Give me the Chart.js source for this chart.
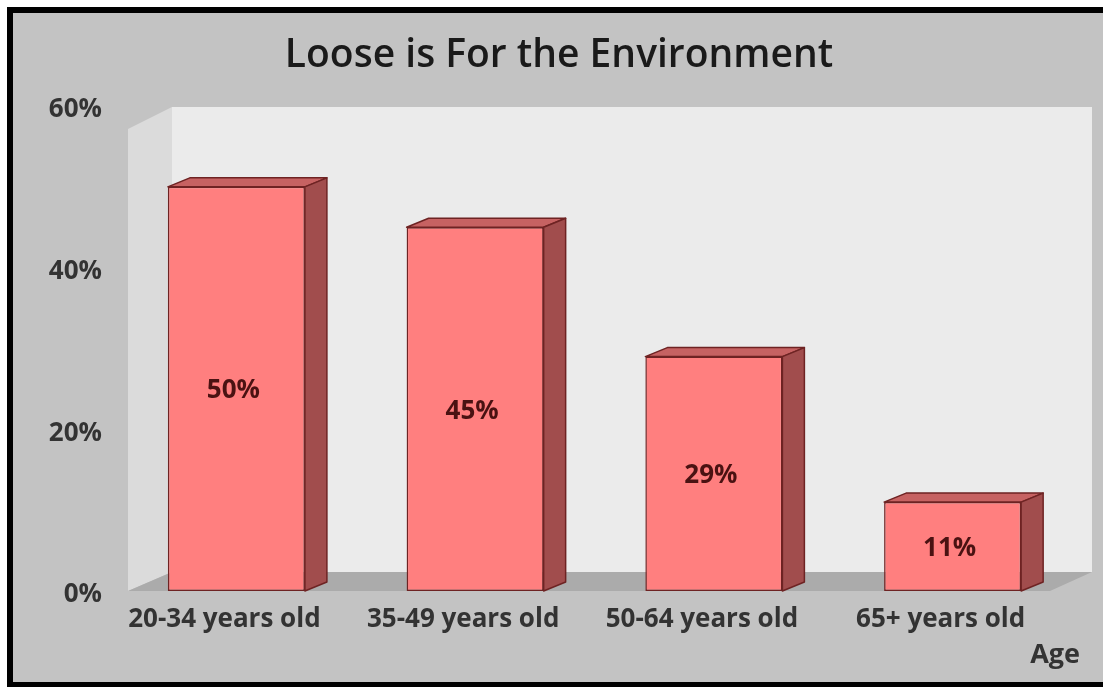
<!DOCTYPE html>
<html>
<head>
<meta charset="utf-8">
<title>Loose is For the Environment</title>
<script src="https://cdn.jsdelivr.net/npm/chart.js@4.4.1/dist/chart.umd.min.js"></script>
<style>
    html, body { margin: 0; padding: 0; background: #ffffff; }
    #wrap { position: relative; width: 1106px; height: 687px; }
</style>
</head>
<body>
<div id="wrap"><canvas id="ageChart" width="1106" height="687"></canvas></div>
<script>
const chartTitle = "Loose is For the Environment";
const axisCaption = "Age";
const ageGroups = ["20-34 years old", "35-49 years old", "50-64 years old", "65+ years old"];
const looseShare = [50, 45, 29, 11];
const yTicks = [0, 20, 40, 60];

const FONT = "'Open Sans', Lato, sans-serif";
const BAR_FRONT = "#ff7f7f";
const BAR_EDGE = "#6e2323";
const BAR_SIDE = "#a14d4d";
const BAR_TOP = "#c66262";
const DEPTH_X = 22, DEPTH_Y = -9;

// frame, walls and floor behind the bars
const backdrop = {
    id: "backdrop",
    beforeDraw(chart) {
        const { ctx, width, height, chartArea: a } = chart;
        ctx.save();
        ctx.fillStyle = "#ffffff";
        ctx.fillRect(0, 0, width, height);
        ctx.fillStyle = "#c3c3c3";
        ctx.fillRect(13, 13, 1090, 669);
        ctx.fillStyle = "#000000";
        ctx.fillRect(7, 7, 1096, 6);
        ctx.fillRect(7, 7, 6, 680);
        ctx.fillRect(7, 682, 1096, 5);

        const fl = a.left + 11, fr = a.right - 22, fb = a.bottom;
        const bl = fl + 44, br = fr + 42, bb = fb - 19;
        const topBack = a.top + 1, topFront = a.top + 23;

        // back wall
        ctx.fillStyle = "#ebebeb";
        ctx.fillRect(bl, topBack, br - bl, bb - topBack);
        // side wall
        ctx.fillStyle = "#dbdbdb";
        ctx.beginPath();
        ctx.moveTo(fl, topFront);
        ctx.lineTo(bl, topBack);
        ctx.lineTo(bl, bb);
        ctx.lineTo(fl, fb);
        ctx.closePath();
        ctx.fill();
        // floor
        ctx.fillStyle = "#ababab";
        ctx.beginPath();
        ctx.moveTo(fl, fb);
        ctx.lineTo(bl, bb);
        ctx.lineTo(br, bb);
        ctx.lineTo(fr, fb);
        ctx.closePath();
        ctx.fill();

        // heading
        ctx.fillStyle = "#1a1a1a";
        ctx.font = "600 39px " + FONT;
        ctx.textAlign = "center";
        ctx.textBaseline = "alphabetic";
        ctx.fillText(chartTitle, 559, 67);
        ctx.restore();
    }
};

// side and top faces of each bar, value labels, axis caption
const bars3d = {
    id: "bars3d",
    afterDatasetsDraw(chart) {
        const { ctx } = chart;
        const meta = chart.getDatasetMeta(0);
        ctx.save();
        ctx.lineWidth = 1.5;
        ctx.strokeStyle = BAR_EDGE;
        ctx.lineJoin = "round";
        meta.data.forEach((bar, i) => {
            const { x, y, base, width } = bar.getProps(["x", "y", "base", "width"], true);
            const x0 = x - width / 2, x1 = x + width / 2;
            // top face
            ctx.fillStyle = BAR_TOP;
            ctx.beginPath();
            ctx.moveTo(x0, y);
            ctx.lineTo(x0 + DEPTH_X, y + DEPTH_Y);
            ctx.lineTo(x1 + DEPTH_X, y + DEPTH_Y);
            ctx.lineTo(x1, y);
            ctx.closePath();
            ctx.fill();
            ctx.stroke();
            // right face
            ctx.fillStyle = BAR_SIDE;
            ctx.beginPath();
            ctx.moveTo(x1, y);
            ctx.lineTo(x1 + DEPTH_X, y + DEPTH_Y);
            ctx.lineTo(x1 + DEPTH_X, base + DEPTH_Y);
            ctx.lineTo(x1, base);
            ctx.closePath();
            ctx.fill();
            ctx.stroke();

            ctx.fillStyle = "#4a1212";
            ctx.font = "bold 26px " + FONT;
            ctx.textAlign = "center";
            ctx.textBaseline = "middle";
            ctx.fillText(looseShare[i] + "%", x - 3, (y + base) / 2 + 2);
        });

        ctx.fillStyle = "#333333";
        ctx.font = "bold 27px " + FONT;
        ctx.textAlign = "right";
        ctx.textBaseline = "middle";
        ctx.fillText(axisCaption, 1080, 655);
        ctx.restore();
    }
};

new Chart(document.getElementById("ageChart"), {
    type: "bar",
    data: {
        labels: ageGroups,
        datasets: [{
            data: looseShare,
            backgroundColor: BAR_FRONT,
            borderColor: BAR_EDGE,
            borderWidth: 1.5,
            borderSkipped: false,
            categoryPercentage: 1,
            barPercentage: 0.574
        }]
    },
    options: {
        responsive: false,
        animation: false,
        layout: { padding: { top: 106, right: 34, bottom: 0, left: 0 } },
        plugins: {
            legend: { display: false },
            tooltip: { enabled: false },
            title: { display: false }
        },
        scales: {
            x: {
                grid: { display: false, drawTicks: false },
                border: { display: false },
                ticks: {
                    color: "#333333",
                    font: { family: FONT, size: 26, weight: "bold" },
                    padding: 13,
                    labelOffset: -12,
                    maxRotation: 0
                },
                afterFit(scale) { scale.height = 96; }
            },
            y: {
                min: 0,
                max: 60,
                grid: { display: false, drawTicks: false },
                border: { display: false },
                afterBuildTicks(scale) { scale.ticks = yTicks.map(v => ({ value: v })); },
                ticks: {
                    color: "#333333",
                    font: { family: FONT, size: 26, weight: "bold" },
                    padding: 15,
                    labelOffset: 4,
                    callback: v => v + "%"
                },
                afterFit(scale) { scale.width = 117; }
            }
        }
    },
    plugins: [backdrop, bars3d]
});
</script>
</body>
</html>
